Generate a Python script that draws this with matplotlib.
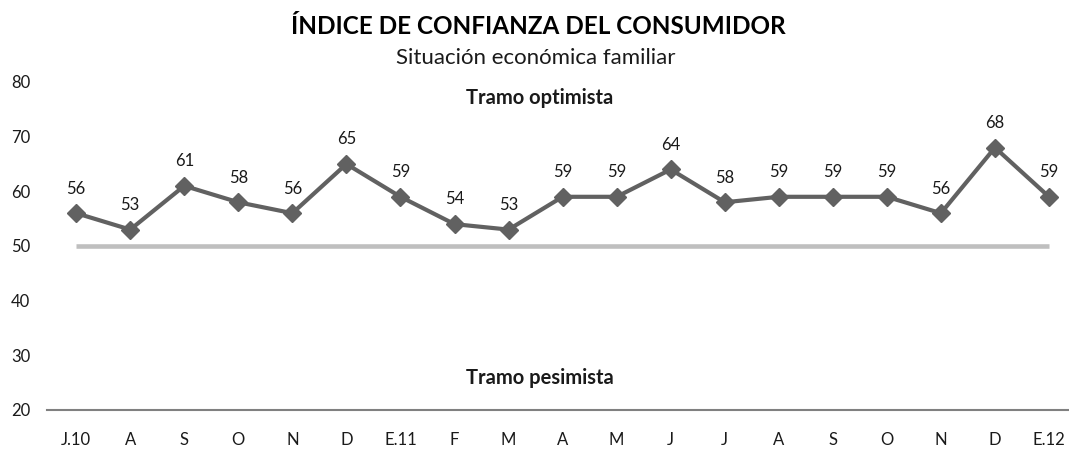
import numpy as np
import matplotlib.pyplot as plt

meses = ["J.10", "A", "S", "O", "N", "D", "E.11", "F", "M", "A", "M", "J",
         "J", "A", "S", "O", "N", "D", "E.12"]
indice = [56, 53, 61, 58, 56, 65, 59, 54, 53, 59, 59, 64, 58, 59, 59, 59, 56, 68, 59]
umbral = 50

plt.rcParams['font.family'] = ['Lato', 'DejaVu Sans']

fig = plt.figure(figsize=(10.69, 4.5), dpi=100)
ax = fig.add_axes([47 / 1069, 40 / 450, 1 - 47 / 1069, 328 / 450])

x = np.arange(len(meses))
ax.plot([x[0], x[-1]], [umbral, umbral], color="#BFBFBF", lw=3.3,
        solid_capstyle="butt", zorder=1)
ax.plot(x, indice, color="#616161", lw=3.0, marker="D", markersize=9.5,
        zorder=3)
for xi, v in zip(x, indice):
    ax.annotate(str(v), (xi, v), xytext=(0, 12), textcoords="offset points",
                ha="center", va="bottom", fontsize=12, color="#1a1a1a")

ax.set_ylim(20, 80)
ax.set_xlim(-0.54, 18.37)
ax.set_yticks(range(20, 81, 10))
ax.set_xticks(x)
ax.set_xticklabels(meses)
ax.tick_params(axis="both", length=0, labelsize=12, colors="#1a1a1a")
ax.tick_params(axis="x", pad=16)
ax.tick_params(axis="y", pad=12)
for s in ["top", "right", "left"]:
    ax.spines[s].set_visible(False)
ax.spines["bottom"].set_color("#808080")
ax.spines["bottom"].set_linewidth(1.5)

# rótulos de tramo (centrados bajo el título)
xc = (540 - 47) / 1022
ax.text(xc, 1 - (98 - 82) / 328, "Tramo optimista", transform=ax.transAxes,
        ha="center", va="center", fontsize=14.5, fontweight="bold", color="#1a1a1a")
ax.text(xc, (410 - 378) / 328, "Tramo pesimista", transform=ax.transAxes,
        ha="center", va="center", fontsize=14.5, fontweight="bold", color="#1a1a1a")

fig.text(538 / 1069, 1 - 27 / 450, "ÍNDICE DE CONFIANZA DEL CONSUMIDOR",
         ha="center", va="center", fontsize=17.5, fontweight="bold", color="#000000")
fig.text(536 / 1069, 1 - 58 / 450, "Situación económica familiar",
         ha="center", va="center", fontsize=16, color="#1a1a1a")

fig.savefig("out.png", dpi=100)
